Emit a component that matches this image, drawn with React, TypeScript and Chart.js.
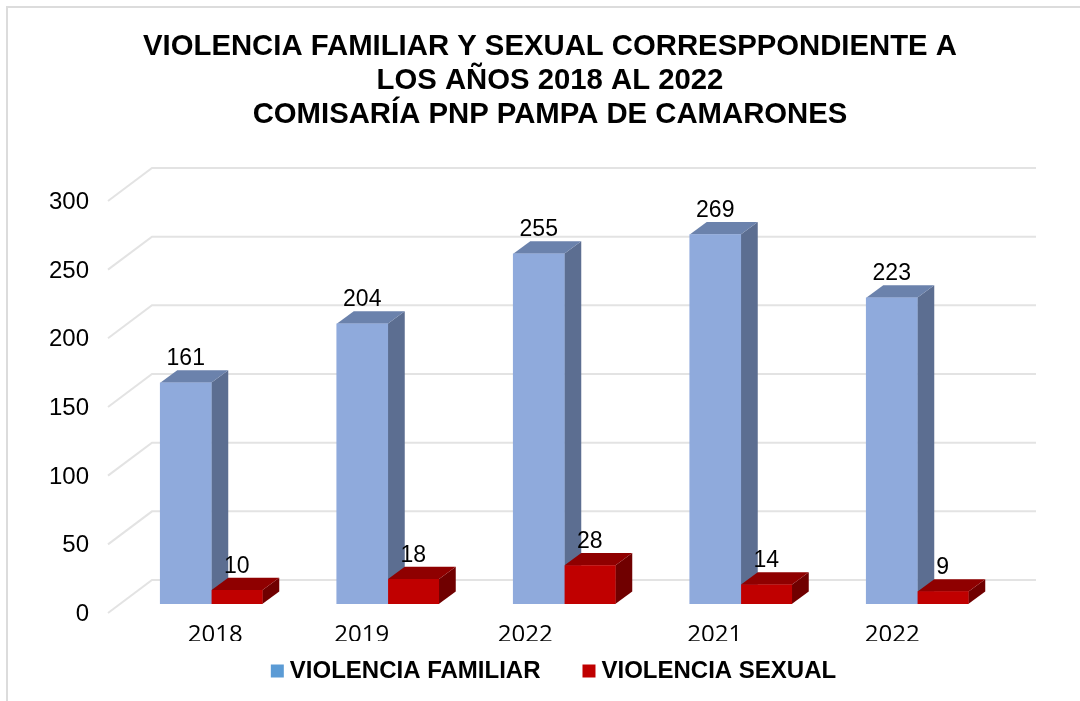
import React, { useEffect, useRef } from "react";
import { Chart, registerables } from "chart.js";

Chart.register(...registerables);

const categories = ["2018", "2019", "2022", "2021", "2022"];
const familiar = [161, 204, 255, 269, 223];
const sexual = [10, 18, 28, 14, 9];
const seriesNames = ["VIOLENCIA FAMILIAR", "VIOLENCIA SEXUAL"];
const titleLines = [
  "VIOLENCIA FAMILIAR Y SEXUAL CORRESPPONDIENTE A",
  "LOS AÑOS 2018 AL 2022",
  "COMISARÍA PNP PAMPA DE CAMARONES",
];
const yTicks = { min: 0, max: 300, step: 50 };

const frontColors = ["#8FAADC", "#C00000"];
const sideColors = ["#5C6E91", "#700000"];
const topColors = ["#6B82AC", "#8F0000"];
const legendColors = ["#5B9BD5", "#C00000"];
const gridColor = "#E3E3E3";
const arial = "'Liberation Sans', Arial, sans-serif";

const depth = { dx: 17, dy: 12.5 };
const wall = { frontX: 108, backX: 152, endX: 1036, frontDy: 9, backDy: -24 };
const xLabelShift = [4, -26, -39, -26, -25];

const scenePlugin = {
  id: "scene",
  afterLayout(chart: any) {
    // The title and the legend have their own centres in the reference.
    chart.titleBlock.left = 20;
    chart.titleBlock.right = 1080;
    chart.legend.left = 33;
    chart.legend.right = 1080;
    chart.legend.top = 611;
    const x = chart.scales.x;
    const own = x.getPixelForTick.bind(x);
    if (!x.__shifted) {
      x.__shifted = true;
      x.getPixelForTick = (i: number) => own(i) + xLabelShift[i];
    }
    x._labelItems = null;
  },
  beforeDraw(chart: any) {
    const { ctx } = chart;
    ctx.save();
    ctx.fillStyle = "#FFFFFF";
    ctx.fillRect(0, 0, chart.width, chart.height);
    ctx.strokeStyle = "#DCDCDC";
    ctx.lineWidth = 2;
    ctx.beginPath();
    ctx.moveTo(7, chart.height);
    ctx.lineTo(7, 7);
    ctx.lineTo(chart.width, 7);
    ctx.stroke();
    ctx.restore();
  },
  beforeDatasetsDraw(chart: any) {
    const { ctx } = chart;
    const y = chart.scales.y;
    ctx.save();
    ctx.strokeStyle = gridColor;
    ctx.lineWidth = 2;
    y.ticks.forEach((t: any) => {
      const py = y.getPixelForValue(t.value);
      ctx.beginPath();
      ctx.moveTo(wall.frontX, py + wall.frontDy);
      ctx.lineTo(wall.backX, py + wall.backDy);
      ctx.lineTo(wall.endX, py + wall.backDy);
      ctx.stroke();
    });
    chart.data.datasets.forEach((_: any, d: number) => {
      chart.getDatasetMeta(d).data.forEach((bar: any) => {
        const l = bar.x - bar.width / 2;
        const r = bar.x + bar.width / 2;
        const t = bar.y;
        const b = bar.base;
        ctx.fillStyle = sideColors[d];
        ctx.beginPath();
        ctx.moveTo(r, t);
        ctx.lineTo(r + depth.dx, t - depth.dy);
        ctx.lineTo(r + depth.dx, b - depth.dy);
        ctx.lineTo(r, b);
        ctx.closePath();
        ctx.fill();
        ctx.fillStyle = topColors[d];
        ctx.beginPath();
        ctx.moveTo(l, t);
        ctx.lineTo(l + depth.dx, t - depth.dy);
        ctx.lineTo(r + depth.dx, t - depth.dy);
        ctx.lineTo(r, t);
        ctx.closePath();
        ctx.fill();
      });
    });
    ctx.restore();
  },
  afterDatasetsDraw(chart: any) {
    const { ctx } = chart;
    ctx.save();
    ctx.fillStyle = "#000000";
    ctx.font = `23px ${arial}`;
    ctx.textAlign = "center";
    ctx.textBaseline = "middle";
    chart.data.datasets.forEach((ds: any, d: number) => {
      chart.getDatasetMeta(d).data.forEach((bar: any, i: number) => {
        ctx.fillText(String(ds.data[i]), bar.x, bar.y - 24);
      });
    });
    ctx.restore();
  },
};

export default function App() {
  const ref = useRef<HTMLCanvasElement>(null);
  useEffect(() => {
    const chart = new Chart(ref.current as HTMLCanvasElement, {
      type: "bar",
      data: {
        labels: categories,
        datasets: [
          { label: seriesNames[0], data: familiar, backgroundColor: frontColors[0], borderWidth: 0 },
          { label: seriesNames[1], data: sexual, backgroundColor: frontColors[1], borderWidth: 0 },
        ],
      },
      options: {
        animation: false,
        responsive: false,
        maintainAspectRatio: false,
        layout: { padding: { left: 0, right: 74.5, top: 0, bottom: 0 } },
        datasets: { bar: { barThickness: 51 } },
        scales: {
          x: {
            grid: { display: false, drawTicks: false },
            border: { display: false },
            afterFit: (s: any) => { s.height = 37; },
            ticks: {
              padding: 16.5,
              color: "#000000",
              maxRotation: 0,
              autoSkip: false,
              font: { family: "'Open Sans', sans-serif", size: 24 },
            },
          },
          y: {
            min: yTicks.min,
            max: yTicks.max,
            grid: { display: false, drawTicks: false },
            border: { display: false },
            afterFit: (s: any) => { s.width = 123; },
            ticks: {
              stepSize: yTicks.step,
              padding: 34,
              labelOffset: 10.5,
              color: "#000000",
              font: { family: arial, size: 24 },
            },
          },
        },
        plugins: {
          tooltip: { enabled: false },
          title: {
            display: true,
            text: titleLines,
            color: "#000000",
            align: "center",
            padding: { top: 30, bottom: 60 },
            font: { family: arial, size: 29.3, weight: "bold", lineHeight: 1.16 },
          },
          legend: {
            display: true,
            position: "bottom",
            maxHeight: 60,
            labels: {
              color: "#000000",
              font: { family: arial, size: 24, weight: "bold" },
              usePointStyle: true,
              boxWidth: 1,
              boxHeight: 13,
              padding: 48,
              generateLabels: (c: any) =>
                c.data.datasets.map((ds: any, i: number) => ({
                  text: ds.label,
                  fillStyle: legendColors[i],
                  strokeStyle: legendColors[i],
                  lineWidth: 0,
                  pointStyle: "rect",
                  datasetIndex: i,
                })),
            },
          },
        },
      },
      plugins: [scenePlugin],
    } as any);
    return () => chart.destroy();
  }, []);
  return (
    <div style={{ position: "fixed", left: 0, top: 0, width: 1080, height: 701 }}>
      <canvas ref={ref} width={1080} height={701} style={{ display: "block" }} />
    </div>
  );
}
